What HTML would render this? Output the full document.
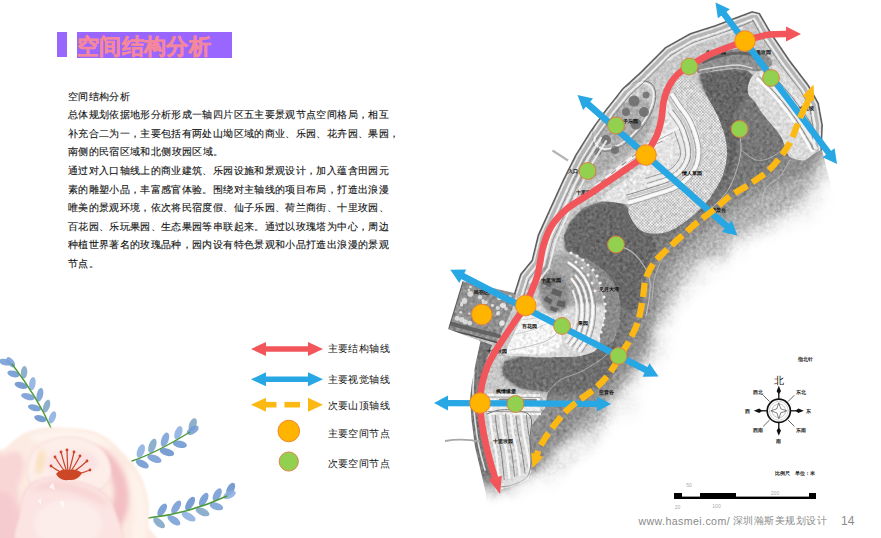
<!DOCTYPE html>
<html lang="zh">
<head>
<meta charset="utf-8">
<title>空间结构分析</title>
<style>
html,body{margin:0;padding:0;background:#fff;}
body{width:881px;height:538px;overflow:hidden;font-family:"Liberation Sans",sans-serif;}
#page{position:relative;width:881px;height:538px;overflow:hidden;background:#fff;}
#art{position:absolute;left:0;top:0;}
.tbar{position:absolute;left:57px;top:32px;width:10px;height:25px;background:#9966ff;}
.title{position:absolute;left:77px;top:32px;-webkit-text-stroke:0.5px #f5879c;padding-top:1.5px;box-sizing:border-box;width:155px;height:26px;background:#9966ff;color:#f5879c;font-weight:bold;font-size:22px;line-height:26px;white-space:nowrap;letter-spacing:0px;}
.body{position:absolute;left:67.8px;top:87.6px;-webkit-text-stroke:0.12px #111;width:340px;font-size:10.35px;line-height:18.6px;color:#111;}
.body p{margin:0;white-space:nowrap;}
.j{display:block;text-align:justify;text-align-last:justify;text-justify:inter-character;white-space:nowrap;overflow:visible;}
.lg{position:absolute;left:327.5px;margin-top:0.3px;font-size:10.3px;line-height:14px;color:#111;white-space:nowrap;}
.foot{position:absolute;left:638px;top:513px;font-size:10.6px;line-height:16px;color:#8a8a8a;white-space:nowrap;letter-spacing:0.41px;}
.pg{position:absolute;left:841px;top:512px;font-size:12px;line-height:18px;color:#8a8a8a;}
</style>
</head>
<body>
<div id="page">
<svg id="art" width="881" height="538" viewBox="0 0 881 538">
<defs><filter id="wc" x="-5%" y="-5%" width="110%" height="110%"><feGaussianBlur stdDeviation="1.1"/></filter><filter id="wc2" x="-10%" y="-10%" width="120%" height="120%"><feGaussianBlur stdDeviation="2.4"/></filter><filter id="wc0" x="-5%" y="-5%" width="110%" height="110%"><feGaussianBlur stdDeviation="0.45"/></filter></defs>
<g id="sprigs" filter="url(#wc0)">
<ellipse cx="40.4" cy="418.6" rx="6.4" ry="3.2" transform="rotate(-164 40.4 418.6)" fill="#6890cc" fill-opacity="0.88"/><ellipse cx="52.4" cy="417.4" rx="6.4" ry="3.2" transform="rotate(-67 52.4 417.4)" fill="#8caee0" fill-opacity="0.88"/><ellipse cx="34.5" cy="407.8" rx="6.7" ry="3.2" transform="rotate(-165 34.5 407.8)" fill="#6c96d2" fill-opacity="0.88"/><ellipse cx="46.6" cy="406.1" rx="6.7" ry="3.2" transform="rotate(-72 46.6 406.1)" fill="#7fa5c6" fill-opacity="0.88"/><ellipse cx="27.9" cy="396.7" rx="7.0" ry="3.2" transform="rotate(-165 27.9 396.7)" fill="#749bd5" fill-opacity="0.88"/><ellipse cx="39.9" cy="394.7" rx="7.0" ry="3.2" transform="rotate(-77 39.9 394.7)" fill="#7a9fd6" fill-opacity="0.88"/><ellipse cx="21.1" cy="385.4" rx="6.7" ry="3.2" transform="rotate(-165 21.1 385.4)" fill="#6890cc" fill-opacity="0.88"/><ellipse cx="32.4" cy="383.6" rx="6.7" ry="3.2" transform="rotate(-81 32.4 383.6)" fill="#8caee0" fill-opacity="0.88"/><ellipse cx="13.5" cy="373.9" rx="6.3" ry="3.2" transform="rotate(-165 13.5 373.9)" fill="#6c96d2" fill-opacity="0.88"/><ellipse cx="24.1" cy="372.3" rx="6.3" ry="3.2" transform="rotate(-86 24.1 372.3)" fill="#7fa5c6" fill-opacity="0.88"/><ellipse cx="5.0" cy="362.1" rx="6.0" ry="3.2" transform="rotate(-165 5.0 362.1)" fill="#749bd5" fill-opacity="0.88"/><ellipse cx="10.7" cy="362.3" rx="6.0" ry="3.2" transform="rotate(-127 10.7 362.3)" fill="#7a9fd6" fill-opacity="0.88"/><path d="M51.0 428.0 Q38.0 398.0 12.0 364.0" fill="none" stroke="#4b9a3a" stroke-width="1.4" stroke-linecap="round"/>
<ellipse cx="140.8" cy="451.1" rx="7.1" ry="3.6" transform="rotate(-69 140.8 451.1)" fill="#8caee0" fill-opacity="0.88"/><ellipse cx="142.3" cy="463.9" rx="7.1" ry="3.6" transform="rotate(28 142.3 463.9)" fill="#6c96d2" fill-opacity="0.88"/><ellipse cx="152.4" cy="445.8" rx="7.5" ry="3.6" transform="rotate(-70 152.4 445.8)" fill="#7fa5c6" fill-opacity="0.88"/><ellipse cx="154.4" cy="458.7" rx="7.5" ry="3.6" transform="rotate(21 154.4 458.7)" fill="#749bd5" fill-opacity="0.88"/><ellipse cx="165.0" cy="439.7" rx="7.5" ry="3.6" transform="rotate(-70 165.0 439.7)" fill="#7a9fd6" fill-opacity="0.88"/><ellipse cx="166.9" cy="452.1" rx="7.5" ry="3.6" transform="rotate(16 166.9 452.1)" fill="#6890cc" fill-opacity="0.88"/><ellipse cx="178.4" cy="432.8" rx="7.1" ry="3.6" transform="rotate(-70 178.4 432.8)" fill="#8caee0" fill-opacity="0.88"/><ellipse cx="179.9" cy="444.3" rx="7.1" ry="3.6" transform="rotate(11 179.9 444.3)" fill="#6c96d2" fill-opacity="0.88"/><ellipse cx="192.8" cy="424.6" rx="6.7" ry="3.6" transform="rotate(-69 192.8 424.6)" fill="#7fa5c6" fill-opacity="0.88"/><ellipse cx="192.7" cy="430.3" rx="6.7" ry="3.6" transform="rotate(-32 192.7 430.3)" fill="#749bd5" fill-opacity="0.88"/><path d="M132.0 461.0 Q156.0 453.0 190.0 432.0" fill="none" stroke="#4b9a3a" stroke-width="1.4" stroke-linecap="round"/>
<ellipse cx="162.2" cy="509.9" rx="7.1" ry="3.6" transform="rotate(-57 162.2 509.9)" fill="#6c96d2" fill-opacity="0.88"/><ellipse cx="159.1" cy="522.9" rx="7.1" ry="3.6" transform="rotate(40 159.1 522.9)" fill="#7fa5c6" fill-opacity="0.88"/><ellipse cx="176.2" cy="507.1" rx="7.5" ry="3.6" transform="rotate(-58 176.2 507.1)" fill="#749bd5" fill-opacity="0.88"/><ellipse cx="173.9" cy="520.3" rx="7.5" ry="3.6" transform="rotate(35 173.9 520.3)" fill="#7a9fd6" fill-opacity="0.88"/><ellipse cx="190.1" cy="503.5" rx="7.7" ry="3.6" transform="rotate(-59 190.1 503.5)" fill="#6890cc" fill-opacity="0.88"/><ellipse cx="188.6" cy="516.7" rx="7.7" ry="3.6" transform="rotate(29 188.6 516.7)" fill="#8caee0" fill-opacity="0.88"/><ellipse cx="203.7" cy="499.5" rx="7.4" ry="3.6" transform="rotate(-60 203.7 499.5)" fill="#6c96d2" fill-opacity="0.88"/><ellipse cx="202.5" cy="511.9" rx="7.4" ry="3.6" transform="rotate(24 202.5 511.9)" fill="#7fa5c6" fill-opacity="0.88"/><ellipse cx="217.2" cy="494.7" rx="7.0" ry="3.6" transform="rotate(-61 217.2 494.7)" fill="#749bd5" fill-opacity="0.88"/><ellipse cx="216.4" cy="506.3" rx="7.0" ry="3.6" transform="rotate(18 216.4 506.3)" fill="#7a9fd6" fill-opacity="0.88"/><ellipse cx="230.7" cy="489.0" rx="6.7" ry="3.6" transform="rotate(-62 230.7 489.0)" fill="#6890cc" fill-opacity="0.88"/><ellipse cx="229.5" cy="494.8" rx="6.7" ry="3.6" transform="rotate(-25 229.5 494.8)" fill="#8caee0" fill-opacity="0.88"/><path d="M148.0 518.0 Q188.0 514.0 227.0 496.0" fill="none" stroke="#4b9a3a" stroke-width="1.4" stroke-linecap="round"/>
</g>
<g id="peony">
<path d="M-8.0 458.0 C-6.0 441.5 0.0 452.2 4.0 449.0 C8.0 445.8 11.9 441.9 16.0 439.0 C20.1 436.1 23.2 433.4 28.5 431.5 C33.8 429.6 41.8 428.1 48.0 427.5 C54.2 426.9 59.8 427.7 66.0 428.0 C72.2 428.3 79.5 428.6 85.0 429.5 C90.5 430.4 94.5 431.4 99.0 433.5 C103.5 435.6 108.0 438.8 112.0 442.0 C116.0 445.2 119.5 449.3 123.0 453.0 C126.5 456.7 130.1 460.2 133.0 464.0 C135.9 467.8 138.3 471.5 140.5 476.0 C142.7 480.5 144.6 485.7 146.0 491.0 C147.4 496.3 148.7 502.3 149.0 508.0 C149.3 513.7 148.5 518.3 148.0 525.0 C147.5 531.7 172.0 544.2 146.0 548.0 C120.0 551.8 17.7 563.0 -8.0 548.0 C-33.7 533.0 -10.0 474.5 -8.0 458.0Z" fill="#fcebe2" filter="url(#wc)"/>
<path d="M30.0 436.0 C33.3 434.0 49.7 430.3 60.0 430.0 C70.3 429.7 83.3 431.3 92.0 434.0 C100.7 436.7 110.7 444.0 112.0 446.0 C113.3 448.0 107.0 447.3 100.0 446.0 C93.0 444.7 80.0 438.7 70.0 438.0 C60.0 437.3 46.7 442.3 40.0 442.0 C33.3 441.7 26.7 438.0 30.0 436.0Z" fill="#fef6f0" fill-opacity="0.9" filter="url(#wc2)"/>
<path d="M128.0 468.0 C129.0 464.0 137.0 475.7 140.0 482.0 C143.0 488.3 145.3 495.3 146.0 506.0 C146.7 516.7 146.3 539.3 144.0 546.0 C141.7 552.7 133.7 552.7 132.0 546.0 C130.3 539.3 134.7 519.0 134.0 506.0 C133.3 493.0 127.0 472.0 128.0 468.0Z" fill="#fef4ec" fill-opacity="0.9" filter="url(#wc2)"/>
<path d="M-8.0 464.0 C-5.7 448.3 1.7 456.0 6.0 454.0 C10.3 452.0 15.0 450.7 18.0 452.0 C21.0 453.3 23.3 458.0 24.0 462.0 C24.7 466.0 23.0 471.3 22.0 476.0 C21.0 480.7 18.0 484.0 18.0 490.0 C18.0 496.0 20.0 502.3 22.0 512.0 C24.0 521.7 35.0 542.0 30.0 548.0 C25.0 554.0 -1.7 562.0 -8.0 548.0 C-14.3 534.0 -10.3 479.7 -8.0 464.0Z" fill="#f8d2d4" fill-opacity="0.85" filter="url(#wc2)"/>
<path d="M-8.0 500.0 C-5.7 490.7 2.0 491.0 6.0 492.0 C10.0 493.0 13.0 499.7 16.0 506.0 C19.0 512.3 22.3 523.0 24.0 530.0 C25.7 537.0 31.3 545.0 26.0 548.0 C20.7 551.0 -2.3 556.0 -8.0 548.0 C-13.7 540.0 -10.3 509.3 -8.0 500.0Z" fill="#f3bcc2" fill-opacity="0.4" filter="url(#wc2)"/>
<path d="M96.0 448.0 C96.3 445.3 105.7 450.3 110.0 454.0 C114.3 457.7 119.0 464.0 122.0 470.0 C125.0 476.0 127.2 483.0 128.0 490.0 C128.8 497.0 128.7 505.7 127.0 512.0 C125.3 518.3 120.5 528.3 118.0 528.0 C115.5 527.7 112.7 516.3 112.0 510.0 C111.3 503.7 114.7 496.7 114.0 490.0 C113.3 483.3 111.0 477.0 108.0 470.0 C105.0 463.0 95.7 450.7 96.0 448.0Z" fill="#f1b7be" fill-opacity="0.85" filter="url(#wc2)"/>
<path d="M27.0 472.0 C26.5 465.7 29.2 457.3 33.0 452.0 C36.8 446.7 43.2 442.5 50.0 440.0 C56.8 437.5 66.5 436.3 74.0 437.0 C81.5 437.7 89.3 440.5 95.0 444.0 C100.7 447.5 105.5 452.3 108.0 458.0 C110.5 463.7 112.2 472.3 110.0 478.0 C107.8 483.7 103.3 489.2 95.0 492.0 C86.7 494.8 69.8 495.3 60.0 495.0 C50.2 494.7 41.5 493.8 36.0 490.0 C30.5 486.2 27.5 478.3 27.0 472.0Z" fill="#fdeeea" stroke="#f4cfd0" stroke-width="1.2" stroke-opacity="0.6" filter="url(#wc)"/>
<ellipse cx="72" cy="463" rx="26" ry="13" fill="#fbdedf" fill-opacity="0.75" filter="url(#wc2)"/>
<ellipse cx="40.5" cy="462" rx="4.5" ry="13" fill="#f8dcae" fill-opacity="0.7" transform="rotate(10 40.5 462)" filter="url(#wc2)"/>
<path d="M22.0 548.0 C6.0 542.0 19.2 522.0 20.0 512.0 C20.8 502.0 22.3 493.8 27.0 488.0 C31.7 482.2 40.5 478.3 48.0 477.0 C55.5 475.7 63.7 478.0 72.0 480.0 C80.3 482.0 91.0 484.3 98.0 489.0 C105.0 493.7 111.0 498.2 114.0 508.0 C117.0 517.8 131.3 541.3 116.0 548.0 C100.7 554.7 38.0 554.0 22.0 548.0Z" fill="#fbe4e2" stroke="#f1bcc0" stroke-opacity="0.5" stroke-width="1.1" filter="url(#wc)"/>
<ellipse cx="68" cy="524" rx="34" ry="24" fill="#fdeeeb" fill-opacity="0.9" filter="url(#wc2)"/>
<path d="M30.0 490.0 C30.3 488.5 43.0 482.0 50.0 481.0 C57.0 480.0 64.3 482.0 72.0 484.0 C79.7 486.0 90.0 489.3 96.0 493.0 C102.0 496.7 108.7 504.8 108.0 506.0 C107.3 507.2 98.3 502.3 92.0 500.0 C85.7 497.7 77.3 493.7 70.0 492.0 C62.7 490.3 54.7 490.3 48.0 490.0 C41.3 489.7 29.7 491.5 30.0 490.0Z" fill="#f6cacb" fill-opacity="0.55" filter="url(#wc2)"/>
<path d="M49 487 l4 -4 2 7z M60 502 l4 -1 -1 8z M38 500 l3 -1 0 6z" fill="#fff" fill-opacity="0.75" filter="url(#wc0)"/>
<g stroke="#c9482c" stroke-width="1.2" fill="none" stroke-linecap="round" filter="url(#wc0)"><path d="M68 475 Q59.5 472.5 51.0 466.0"/><circle cx="51.0" cy="466.0" r="1.4" fill="#c7452a" stroke="none"/><path d="M68 475 Q61.5 468.0 55.0 457.0"/><circle cx="55.0" cy="457.0" r="1.4" fill="#c7452a" stroke="none"/><path d="M68 475 Q64.5 465.5 61.0 452.0"/><circle cx="61.0" cy="452.0" r="1.4" fill="#c7452a" stroke="none"/><path d="M68 475 Q67.5 464.5 67.0 450.0"/><circle cx="67.0" cy="450.0" r="1.4" fill="#c7452a" stroke="none"/><path d="M68 475 Q71.0 465.5 74.0 452.0"/><circle cx="74.0" cy="452.0" r="1.4" fill="#c7452a" stroke="none"/><path d="M68 475 Q74.0 467.5 80.0 456.0"/><circle cx="80.0" cy="456.0" r="1.4" fill="#c7452a" stroke="none"/><path d="M68 475 Q77.5 470.0 87.0 461.0"/><circle cx="87.0" cy="461.0" r="1.4" fill="#c7452a" stroke="none"/><path d="M68 475 Q79.0 474.5 90.0 470.0"/><circle cx="90.0" cy="470.0" r="1.4" fill="#c7452a" stroke="none"/></g>
<path d="M56 474 Q61 468 68 470 Q76 468 82 473 Q78 481 68 480 Q60 481 56 474z" fill="#cc4727" filter="url(#wc0)"/>
</g>
<defs>
<filter id="tex" x="0" y="0" width="100%" height="100%" color-interpolation-filters="sRGB"><feTurbulence type="fractalNoise" baseFrequency="0.3" numOctaves="4" seed="7" result="n"/><feColorMatrix in="n" type="matrix" values="0.5 0.5 0 0 0  0.5 0.5 0 0 0  0.5 0.5 0 0 0  0 0 0 0 1" result="g"/><feComposite in="SourceGraphic" in2="g" operator="arithmetic" k1="0" k2="1" k3="0.4" k4="-0.2" result="c"/><feComposite in="c" in2="SourceGraphic" operator="in"/></filter>
<filter id="soft" x="-5%" y="-5%" width="110%" height="110%"><feGaussianBlur stdDeviation="0.7"/></filter>
<filter id="soft2" x="-5%" y="-5%" width="110%" height="110%"><feGaussianBlur stdDeviation="1.8"/></filter>
<filter id="soft4" x="-10%" y="-10%" width="120%" height="120%"><feGaussianBlur stdDeviation="4"/></filter>
<filter id="fadeblur" x="-10%" y="-10%" width="120%" height="120%"><feGaussianBlur stdDeviation="9" result="b"/><feTurbulence type="fractalNoise" baseFrequency="0.035" numOctaves="3" seed="11" result="t"/><feDisplacementMap in="b" in2="t" scale="22" xChannelSelector="R" yChannelSelector="G"/></filter>
<pattern id="scales" width="3" height="3" patternUnits="userSpaceOnUse"><rect width="3" height="3" fill="#e2e2e2"/><circle cx="1" cy="1" r="0.8" fill="#a9a9a9"/><circle cx="2.5" cy="2.5" r="0.6" fill="#b5b5b5"/></pattern>
<clipPath id="leftclip"><polygon points="486.0,494.0 481.0,472.0 475.0,447.0 471.5,420.0 470.0,399.0 471.6,385.0 475.5,364.0 480.5,341.0 448.0,329.0 462.5,281.0 514.0,293.0 520.0,274.0 531.5,260.0 537.5,235.0 550.0,207.5 562.5,180.0 575.0,155.0 590.0,131.0 605.0,110.0 622.5,88.0 640.0,72.0 665.0,47.0 690.0,33.0 715.0,25.0 740.0,15.5 752.0,11.0 760.0,13.0 771.0,32.0 790.0,60.0 809.0,85.0 819.0,103.0 823.0,125.0 822.0,150.0 829.0,178.0 835.0,200.0 900.0,300.0 900.0,560.0 486.0,560.0"/></clipPath>
<mask id="mapmask" maskUnits="userSpaceOnUse" x="380" y="-10" width="520" height="560"><rect x="380" y="-10" width="520" height="560" fill="#000"/><g clip-path="url(#leftclip)"><path d="M380.0 -40.0 C443.3 -127.8 686.7 -53.3 760.0 -40.0 C833.3 -26.7 807.0 15.0 820.0 40.0 C833.0 65.0 835.7 91.7 838.0 110.0 C840.3 128.3 835.8 140.3 834.0 150.0 C832.2 159.7 830.0 160.3 827.0 168.0 C824.0 175.7 821.8 188.2 816.0 196.0 C810.2 203.8 801.0 209.0 792.0 215.0 C783.0 221.0 770.7 227.7 762.0 232.0 C753.3 236.3 747.7 236.0 740.0 241.0 C732.3 246.0 724.2 255.5 716.0 262.0 C707.8 268.5 697.7 274.2 691.0 280.0 C684.3 285.8 680.0 291.8 676.0 297.0 C672.0 302.2 669.2 306.8 667.0 311.0 C664.8 315.2 664.7 316.2 663.0 322.0 C661.3 327.8 660.7 338.0 657.0 346.0 C653.3 354.0 645.8 362.7 641.0 370.0 C636.2 377.3 633.0 381.8 628.0 390.0 C623.0 398.2 618.0 410.5 611.0 419.0 C604.0 427.5 593.8 434.5 586.0 441.0 C578.2 447.5 571.5 452.8 564.0 458.0 C556.5 463.2 548.0 468.0 541.0 472.0 C534.0 476.0 528.0 479.5 522.0 482.0 C516.0 484.5 511.0 486.2 505.0 487.0 C499.0 487.8 491.8 487.0 486.0 487.0 C480.2 487.0 487.7 487.0 470.0 487.0 C452.3 487.0 395.0 574.8 380.0 487.0 C365.0 399.2 316.7 47.8 380.0 -40.0Z" fill="#fff" filter="url(#fadeblur)"/></g></mask>
</defs>
<g id="map" mask="url(#mapmask)">
<g filter="url(#tex)">
<rect x="420" y="0" width="461" height="538" fill="#8e8e8e"/>
<path d="M700.0 74.0 C708.3 60.7 738.3 65.7 750.0 70.0 C761.7 74.3 763.0 88.3 770.0 100.0 C777.0 111.7 789.3 130.3 792.0 140.0 C794.7 149.7 790.0 152.7 786.0 158.0 C782.0 163.3 774.3 167.3 768.0 172.0 C761.7 176.7 754.7 181.7 748.0 186.0 C741.3 190.3 734.0 194.0 728.0 198.0 C722.0 202.0 717.7 205.8 712.0 210.0 C706.3 214.2 699.7 218.7 694.0 223.0 C688.3 227.3 683.3 231.2 678.0 236.0 C672.7 240.8 666.7 246.7 662.0 252.0 C657.3 257.3 653.0 262.3 650.0 268.0 C647.0 273.7 645.5 279.8 644.0 286.0 C642.5 292.2 642.3 298.7 641.0 305.0 C639.7 311.3 638.2 317.8 636.0 324.0 C633.8 330.2 630.7 336.7 628.0 342.0 C625.3 347.3 623.3 350.7 620.0 356.0 C616.7 361.3 612.7 368.7 608.0 374.0 C603.3 379.3 598.3 384.3 592.0 388.0 C585.7 391.7 578.7 394.3 570.0 396.0 C561.3 397.7 551.7 398.0 540.0 398.0 C528.3 398.0 506.7 404.0 500.0 396.0 C493.3 388.0 490.0 366.0 500.0 350.0 C510.0 334.0 550.0 321.7 560.0 300.0 C570.0 278.3 546.7 236.7 560.0 220.0 C573.3 203.3 616.7 211.7 640.0 200.0 C663.3 188.3 690.0 171.0 700.0 150.0 C710.0 129.0 691.7 87.3 700.0 74.0Z" fill="#777777" filter="url(#soft4)"/>
<path d="M834.0 140.0 C826.0 143.3 827.7 154.0 822.0 160.0 C816.3 166.0 807.7 171.7 800.0 176.0 C792.3 180.3 783.3 182.7 776.0 186.0 C768.7 189.3 762.3 192.3 756.0 196.0 C749.7 199.7 743.7 204.0 738.0 208.0 C732.3 212.0 727.5 216.0 722.0 220.0 C716.5 224.0 710.3 227.7 705.0 232.0 C699.7 236.3 694.8 241.3 690.0 246.0 C685.2 250.7 680.0 255.0 676.0 260.0 C672.0 265.0 668.7 270.3 666.0 276.0 C663.3 281.7 661.7 287.0 660.0 294.0 C658.3 301.0 658.0 310.3 656.0 318.0 C654.0 325.7 650.7 333.7 648.0 340.0 C645.3 346.3 643.7 349.7 640.0 356.0 C636.3 362.3 631.0 371.3 626.0 378.0 C621.0 384.7 616.3 390.0 610.0 396.0 C603.7 402.0 595.0 407.7 588.0 414.0 C581.0 420.3 573.7 427.7 568.0 434.0 C562.3 440.3 557.7 446.0 554.0 452.0 C550.3 458.0 551.7 462.0 546.0 470.0 C540.3 478.0 511.0 495.0 520.0 500.0 C529.0 505.0 570.0 516.7 600.0 500.0 C630.0 483.3 673.3 433.3 700.0 400.0 C726.7 366.7 733.3 326.7 760.0 300.0 C786.7 273.3 841.7 266.7 860.0 240.0 C878.3 213.3 874.3 156.7 870.0 140.0 C865.7 123.3 842.0 136.7 834.0 140.0Z" fill="#ffffff" fill-opacity="0.30" filter="url(#soft4)"/>
<path d="M834.0 150.0 C826.7 153.3 829.7 163.3 826.0 170.0 C822.3 176.7 818.0 184.2 812.0 190.0 C806.0 195.8 798.7 199.7 790.0 205.0 C781.3 210.3 769.0 216.8 760.0 222.0 C751.0 227.2 744.0 230.3 736.0 236.0 C728.0 241.7 719.7 249.7 712.0 256.0 C704.3 262.3 696.3 268.0 690.0 274.0 C683.7 280.0 678.3 285.7 674.0 292.0 C669.7 298.3 666.7 305.0 664.0 312.0 C661.3 319.0 660.7 326.7 658.0 334.0 C655.3 341.3 652.0 348.7 648.0 356.0 C644.0 363.3 639.0 370.7 634.0 378.0 C629.0 385.3 623.7 393.0 618.0 400.0 C612.3 407.0 606.7 413.7 600.0 420.0 C593.3 426.3 585.3 432.0 578.0 438.0 C570.7 444.0 563.0 450.3 556.0 456.0 C549.0 461.7 542.0 464.7 536.0 472.0 C530.0 479.3 509.3 495.3 520.0 500.0 C530.7 504.7 570.0 516.7 600.0 500.0 C630.0 483.3 673.3 433.3 700.0 400.0 C726.7 366.7 733.3 326.7 760.0 300.0 C786.7 273.3 841.7 265.0 860.0 240.0 C878.3 215.0 874.3 165.0 870.0 150.0 C865.7 135.0 841.3 146.7 834.0 150.0Z" fill="#ffffff" fill-opacity="0.38" filter="url(#soft4)"/>
<polygon points="486.0,494.0 481.0,472.0 475.0,447.0 471.5,420.0 470.0,399.0 471.6,385.0 475.5,364.0 480.5,341.0 448.0,329.0 462.5,281.0 514.0,293.0 520.0,274.0 531.5,260.0 537.5,235.0 550.0,207.5 562.5,180.0 575.0,155.0 590.0,131.0 605.0,110.0 622.5,88.0 640.0,72.0 665.0,47.0 690.0,33.0 715.0,25.0 740.0,15.5 752.0,11.0 760.0,13.0 771.0,32.0 790.0,60.0 809.0,85.0 819.0,103.0 823.0,125.0 822.0,150.0 815.0,153.0 804.0,161.0 792.0,157.0 788.0,146.0 784.0,136.0 775.0,125.0 766.0,114.0 759.0,102.5 750.5,94.0 752.0,87.0 755.0,77.0 748.0,71.0 735.0,69.0 717.0,71.0 700.0,74.0 704.0,90.0 713.0,107.0 723.0,130.0 727.0,153.0 723.0,176.0 709.0,200.0 690.0,218.0 668.0,231.0 645.0,231.0 633.0,218.0 628.0,208.0 618.0,200.0 600.0,202.0 583.0,208.0 570.0,222.0 564.0,236.0 566.0,250.0 580.0,256.0 596.0,264.0 610.0,276.0 619.0,295.0 620.0,320.0 614.0,340.0 604.0,348.0 590.0,353.0 575.0,358.0 560.0,357.0 545.0,358.0 520.0,357.0 504.0,362.0 503.0,376.0 520.0,388.0 548.0,392.0 545.0,408.0 532.0,425.0 529.0,452.0 531.0,470.0 528.0,480.0 510.0,487.0" fill="#c8c8c8" filter="url(#soft)"/>
<path d="M600.0 203.0 C605.7 201.7 613.2 200.0 618.0 201.0 C622.8 202.0 626.0 205.5 629.0 209.0 C632.0 212.5 632.8 218.2 636.0 222.0 C639.2 225.8 644.7 228.0 648.0 232.0 C651.3 236.0 655.7 241.0 656.0 246.0 C656.3 251.0 652.3 256.3 650.0 262.0 C647.7 267.7 643.7 273.7 642.0 280.0 C640.3 286.3 642.0 294.7 640.0 300.0 C638.0 305.3 634.0 312.0 630.0 312.0 C626.0 312.0 620.0 304.5 616.0 300.0 C612.0 295.5 610.0 289.8 606.0 285.0 C602.0 280.2 597.0 274.8 592.0 271.0 C587.0 267.2 580.3 265.5 576.0 262.0 C571.7 258.5 567.8 254.3 566.0 250.0 C564.2 245.7 564.2 240.7 565.0 236.0 C565.8 231.3 567.8 226.5 571.0 222.0 C574.2 217.5 579.2 212.2 584.0 209.0 C588.8 205.8 594.3 204.3 600.0 203.0Z" fill="#686868" filter="url(#soft2)"/>
<path d="M504.0 363.0 C506.7 359.8 513.2 357.8 520.0 357.0 C526.8 356.2 538.0 358.7 545.0 358.0 C552.0 357.3 554.5 354.8 562.0 353.0 C569.5 351.2 582.7 349.2 590.0 347.0 C597.3 344.8 601.0 339.5 606.0 340.0 C611.0 340.5 618.3 345.3 620.0 350.0 C621.7 354.7 619.3 362.3 616.0 368.0 C612.7 373.7 606.8 380.0 600.0 384.0 C593.2 388.0 583.7 390.7 575.0 392.0 C566.3 393.3 557.2 392.7 548.0 392.0 C538.8 391.3 527.3 390.7 520.0 388.0 C512.7 385.3 506.7 380.2 504.0 376.0 C501.3 371.8 501.3 366.2 504.0 363.0Z" fill="#6e6e6e" filter="url(#soft2)"/>
<path d="M700.0 75.0 C702.3 72.0 712.0 72.8 718.0 72.0 C724.0 71.2 731.0 70.0 736.0 70.0 C741.0 70.0 745.3 69.3 748.0 72.0 C750.7 74.7 752.7 81.3 752.0 86.0 C751.3 90.7 746.8 95.0 744.0 100.0 C741.2 105.0 736.0 109.3 735.0 116.0 C734.0 122.7 738.2 131.8 738.0 140.0 C737.8 148.2 736.7 157.3 734.0 165.0 C731.3 172.7 726.3 179.7 722.0 186.0 C717.7 192.3 708.0 204.5 708.0 203.0 C708.0 201.5 718.8 185.3 722.0 177.0 C725.2 168.7 726.8 160.8 727.0 153.0 C727.2 145.2 725.3 137.7 723.0 130.0 C720.7 122.3 716.2 113.7 713.0 107.0 C709.8 100.3 706.2 95.3 704.0 90.0 C701.8 84.7 697.7 78.0 700.0 75.0Z" fill="#666666" filter="url(#soft2)"/>
<path d="M677.0 78.0 C679.3 76.0 686.2 78.3 690.0 80.0 C693.8 81.7 696.2 83.5 700.0 88.0 C703.8 92.5 709.2 100.0 713.0 107.0 C716.8 114.0 720.7 122.3 723.0 130.0 C725.3 137.7 727.2 145.2 727.0 153.0 C726.8 160.8 725.2 169.2 722.0 177.0 C718.8 184.8 713.3 193.2 708.0 200.0 C702.7 206.8 696.8 212.7 690.0 218.0 C683.2 223.3 674.7 229.7 667.0 232.0 C659.3 234.3 649.8 234.0 644.0 232.0 C638.2 230.0 634.3 224.2 632.0 220.0 C629.7 215.8 626.5 210.3 630.0 207.0 C633.5 203.7 644.7 202.8 653.0 200.0 C661.3 197.2 672.5 194.7 680.0 190.0 C687.5 185.3 694.2 178.8 698.0 172.0 C701.8 165.2 703.5 157.5 703.0 149.0 C702.5 140.5 698.3 128.7 695.0 121.0 C691.7 113.3 686.2 107.8 683.0 103.0 C679.8 98.2 677.0 96.2 676.0 92.0 C675.0 87.8 674.7 80.0 677.0 78.0Z" fill="url(#scales)" filter="url(#soft)"/>
<path d="M668.0 96.0 C670.5 92.2 674.3 93.3 677.0 95.0 C679.7 96.7 681.0 101.5 684.0 106.0 C687.0 110.5 692.0 114.8 695.0 122.0 C698.0 129.2 701.7 140.8 702.0 149.0 C702.3 157.2 700.7 164.3 697.0 171.0 C693.3 177.7 687.3 184.3 680.0 189.0 C672.7 193.7 661.0 196.5 653.0 199.0 C645.0 201.5 638.8 203.5 632.0 204.0 C625.2 204.5 617.3 202.7 612.0 202.0 C606.7 201.3 600.3 202.0 600.0 200.0 C599.7 198.0 605.0 194.0 610.0 190.0 C615.0 186.0 624.0 181.0 630.0 176.0 C636.0 171.0 641.7 166.0 646.0 160.0 C650.3 154.0 653.3 147.0 656.0 140.0 C658.7 133.0 660.0 125.3 662.0 118.0 C664.0 110.7 665.5 99.8 668.0 96.0Z" fill="#e3e3e3" filter="url(#soft)"/>
<path d="M750.0 80.0 C751.7 76.3 754.5 73.5 758.0 71.0 C761.5 68.5 767.0 65.2 771.0 65.0 C775.0 64.8 778.0 66.8 782.0 70.0 C786.0 73.2 790.7 79.0 795.0 84.0 C799.3 89.0 804.2 94.3 808.0 100.0 C811.8 105.7 815.8 111.7 818.0 118.0 C820.2 124.3 821.5 132.3 821.0 138.0 C820.5 143.7 817.8 148.3 815.0 152.0 C812.2 155.7 808.2 159.2 804.0 160.0 C799.8 160.8 793.2 159.3 790.0 157.0 C786.8 154.7 786.7 149.7 785.0 146.0 C783.3 142.3 782.3 138.7 780.0 135.0 C777.7 131.3 774.0 127.7 771.0 124.0 C768.0 120.3 764.7 116.7 762.0 113.0 C759.3 109.3 757.3 105.3 755.0 102.0 C752.7 98.7 748.8 96.7 748.0 93.0 C747.2 89.3 748.3 83.7 750.0 80.0Z" fill="#dbdbdb" filter="url(#soft)"/>
<path d="M700.0 62.0 C703.7 58.7 712.5 55.3 720.0 53.0 C727.5 50.7 737.5 47.8 745.0 48.0 C752.5 48.2 760.5 51.3 765.0 54.0 C769.5 56.7 772.8 61.2 772.0 64.0 C771.2 66.8 764.0 70.0 760.0 71.0 C756.0 72.0 752.2 70.5 748.0 70.0 C743.8 69.5 740.2 68.0 735.0 68.0 C729.8 68.0 723.2 69.2 717.0 70.0 C710.8 70.8 700.8 74.3 698.0 73.0 C695.2 71.7 696.3 65.3 700.0 62.0Z" fill="#8e8e8e" filter="url(#soft)"/>
<path d="M583.0 150.0 C588.0 141.3 594.2 135.0 600.0 128.0 C605.8 121.0 612.0 113.0 618.0 108.0 C624.0 103.0 630.7 98.7 636.0 98.0 C641.3 97.3 647.3 100.0 650.0 104.0 C652.7 108.0 653.0 116.0 652.0 122.0 C651.0 128.0 647.7 135.0 644.0 140.0 C640.3 145.0 635.3 147.7 630.0 152.0 C624.7 156.3 617.7 161.7 612.0 166.0 C606.3 170.3 601.3 174.7 596.0 178.0 C590.7 181.3 584.3 185.7 580.0 186.0 C575.7 186.3 569.5 186.0 570.0 180.0 C570.5 174.0 578.0 158.7 583.0 150.0Z" fill="#adadad" filter="url(#soft2)"/>
<path d="M545.0 262.0 C547.7 257.7 551.7 255.5 556.0 254.0 C560.3 252.5 566.2 251.7 571.0 253.0 C575.8 254.3 580.8 258.2 585.0 262.0 C589.2 265.8 593.0 270.5 596.0 276.0 C599.0 281.5 601.5 288.5 603.0 295.0 C604.5 301.5 605.3 308.3 605.0 315.0 C604.7 321.7 602.5 329.2 601.0 335.0 C599.5 340.8 599.5 346.5 596.0 350.0 C592.5 353.5 586.0 354.8 580.0 356.0 C574.0 357.2 566.7 356.8 560.0 357.0 C553.3 357.2 546.7 357.2 540.0 357.0 C533.3 356.8 525.7 356.5 520.0 356.0 C514.3 355.5 507.3 357.0 506.0 354.0 C504.7 351.0 509.7 343.3 512.0 338.0 C514.3 332.7 517.3 327.0 520.0 322.0 C522.7 317.0 525.3 312.3 528.0 308.0 C530.7 303.7 534.0 300.7 536.0 296.0 C538.0 291.3 538.5 285.7 540.0 280.0 C541.5 274.3 542.3 266.3 545.0 262.0Z" fill="#dadada" filter="url(#soft)"/>
<path d="M545.0 262.0 C547.7 257.7 551.7 255.5 556.0 254.0 C560.3 252.5 566.2 251.7 571.0 253.0 C575.8 254.3 580.8 258.2 585.0 262.0 C589.2 265.8 593.0 270.5 596.0 276.0 C599.0 281.5 601.7 290.0 603.0 295.0 C604.3 300.0 606.2 304.7 604.0 306.0 C601.8 307.3 594.8 303.2 590.0 303.0 C585.2 302.8 579.7 303.7 575.0 305.0 C570.3 306.3 566.5 309.7 562.0 311.0 C557.5 312.3 551.7 314.8 548.0 313.0 C544.3 311.2 541.3 305.5 540.0 300.0 C538.7 294.5 539.2 286.3 540.0 280.0 C540.8 273.7 542.3 266.3 545.0 262.0Z" fill="#a6a6a6" filter="url(#soft2)"/>
<path d="M585.0 258.0 C587.0 258.5 593.7 262.7 598.0 266.0 C602.3 269.3 607.5 273.0 611.0 278.0 C614.5 283.0 617.5 289.0 619.0 296.0 C620.5 303.0 621.0 312.7 620.0 320.0 C619.0 327.3 615.8 335.5 613.0 340.0 C610.2 344.5 605.2 347.7 603.0 347.0 C600.8 346.3 599.7 341.3 600.0 336.0 C600.3 330.7 604.5 321.8 605.0 315.0 C605.5 308.2 604.5 301.5 603.0 295.0 C601.5 288.5 598.8 281.3 596.0 276.0 C593.2 270.7 587.8 266.0 586.0 263.0 C584.2 260.0 583.0 257.5 585.0 258.0Z" fill="#8a8a8a" filter="url(#soft)"/>
<path d="M541.0 278.0 C542.7 274.7 546.5 272.3 550.0 272.0 C553.5 271.7 559.0 273.0 562.0 276.0 C565.0 279.0 567.3 285.0 568.0 290.0 C568.7 295.0 568.0 302.3 566.0 306.0 C564.0 309.7 559.5 312.0 556.0 312.0 C552.5 312.0 547.7 309.3 545.0 306.0 C542.3 302.7 540.7 296.7 540.0 292.0 C539.3 287.3 539.3 281.3 541.0 278.0Z" fill="#8c8c8c" filter="url(#soft2)"/>
<path d="M507.0 352.0 C506.2 348.3 512.3 337.8 515.0 332.0 C517.7 326.2 519.5 320.3 523.0 317.0 C526.5 313.7 531.5 312.2 536.0 312.0 C540.5 311.8 546.3 313.3 550.0 316.0 C553.7 318.7 556.0 323.7 558.0 328.0 C560.0 332.3 562.7 338.2 562.0 342.0 C561.3 345.8 557.7 349.0 554.0 351.0 C550.3 353.0 545.7 353.5 540.0 354.0 C534.3 354.5 525.5 354.3 520.0 354.0 C514.5 353.7 507.8 355.7 507.0 352.0Z" fill="#f3f3f3" filter="url(#soft)"/>
<polygon points="448.0,329.0 462.5,281.0 516.0,293.0 512.0,310.0 497.0,342.0" fill="#8f8f8f"/>
<path d="M487.0 416.0 C489.0 411.2 494.5 411.7 500.0 411.0 C505.5 410.3 514.8 410.8 520.0 412.0 C525.2 413.2 529.3 413.3 531.0 418.0 C532.7 422.7 530.0 432.7 530.0 440.0 C530.0 447.3 531.3 456.0 531.0 462.0 C530.7 468.0 531.2 472.3 528.0 476.0 C524.8 479.7 517.0 482.3 512.0 484.0 C507.0 485.7 501.3 489.2 498.0 486.0 C494.7 482.8 493.7 472.7 492.0 465.0 C490.3 457.3 488.8 448.2 488.0 440.0 C487.2 431.8 485.0 420.8 487.0 416.0Z" fill="#d4d4d4" filter="url(#soft)"/>
<polygon points="487.0,393.5 540.0,394.0 541.0,415.0 487.0,414.5" fill="#ececec"/>
<polygon points="480.5,341.0 475.5,364.0 471.6,385.0 470.0,399.0 471.5,420.0 475.0,447.0 481.0,472.0 486.0,494.0 496.0,492.0 490.0,470.0 484.0,445.0 481.0,420.0 480.0,399.0 481.0,385.0 485.0,364.0 492.0,345.0" fill="#747474" filter="url(#soft)"/>
</g>
<g id="mapdetail" fill="none" stroke-linecap="round">
<path d="M674.3 93.1 C675.5 94.9 678.2 99.3 681.3 104.1 C684.5 108.9 689.9 114.3 693.2 121.8 C696.4 129.3 700.5 140.9 701.0 149.1 C701.5 157.3 699.9 164.5 696.3 171.0 C692.6 177.6 686.3 183.8 678.9 188.3 C671.6 192.8 660.6 195.3 652.4 198.1 C644.1 200.9 633.2 203.9 629.4 205.1" fill="none" stroke="#8c8c8c" stroke-width="0.8" stroke-opacity="0.95"/>
<path d="M672.1 94.5 C673.3 96.3 676.0 100.8 679.2 105.5 C682.3 110.2 687.6 115.5 690.8 122.8 C694.0 130.1 697.9 141.5 698.4 149.3 C698.9 157.1 697.5 163.6 694.0 169.7 C690.5 175.9 684.6 181.8 677.6 186.1 C670.5 190.4 659.7 192.9 651.5 195.6 C643.4 198.4 632.5 201.4 628.7 202.6" fill="none" stroke="#fafafa" stroke-width="3.2" stroke-opacity="0.95"/>
<path d="M669.9 95.9 C671.1 97.7 673.9 102.3 677.0 106.9 C680.1 111.6 685.3 116.8 688.4 123.9 C691.5 131.0 695.3 142.0 695.8 149.4 C696.4 156.9 695.0 162.7 691.7 168.5 C688.5 174.2 683.0 179.8 676.2 183.9 C669.4 188.0 658.7 190.5 650.7 193.2 C642.6 195.9 631.7 199.0 627.9 200.1" fill="none" stroke="#8c8c8c" stroke-width="0.8" stroke-opacity="0.95"/>
<path d="M667.7 97.3 C668.9 99.1 671.8 103.8 674.8 108.4 C677.8 113.0 682.9 118.0 686.0 124.9 C689.1 131.8 692.6 142.5 693.2 149.6 C693.8 156.6 692.5 161.9 689.5 167.2 C686.4 172.6 681.4 177.8 674.8 181.7 C668.2 185.6 657.8 188.1 649.8 190.7 C641.9 193.4 630.9 196.5 627.1 197.6" fill="none" stroke="#c9c9c9" stroke-width="2.4" stroke-opacity="0.95"/>
<path d="M672.6 109.8 C674.5 112.5 680.6 119.3 683.6 125.9 C686.6 132.6 690.0 143.1 690.6 149.7 C691.2 156.4 690.0 161.0 687.2 165.9 C684.3 170.9 679.8 175.8 673.4 179.5 C667.1 183.2 656.9 185.6 649.0 188.3 C641.2 190.9 630.2 194.0 626.4 195.1" fill="none" stroke="#7d7d7d" stroke-width="0.9" stroke-opacity="0.95"/>
<path d="M670.5 111.2 C672.3 113.8 678.3 120.5 681.2 127.0 C684.2 133.4 687.4 143.6 688.0 149.9 C688.6 156.2 687.6 160.1 684.9 164.7 C682.3 169.2 678.2 173.7 672.1 177.3 C666.0 180.8 652.2 184.4 648.2 185.8" fill="none" stroke="#f4f4f4" stroke-width="2.6" stroke-opacity="0.95"/>
<path d="M668.3 112.6 C670.0 115.2 676.0 121.8 678.9 128.0 C681.7 134.2 684.8 144.1 685.4 150.0 C686.1 155.9 685.1 159.2 682.7 163.4 C680.2 167.6 676.6 171.7 670.7 175.1 C664.8 178.4 651.2 182.0 647.3 183.3" fill="none" stroke="#8a8a8a" stroke-width="0.8" stroke-opacity="0.95"/>
<path d="M666.1 114.1 C667.8 116.6 673.7 123.0 676.5 129.1 C679.3 135.1 682.2 144.7 682.8 150.2 C683.5 155.7 682.6 158.3 680.4 162.1 C678.1 165.9 675.0 169.7 669.3 172.8 C663.7 176.0 650.3 179.5 646.5 180.9" fill="none" stroke="#e9e9e9" stroke-width="2.2" stroke-opacity="0.95"/>
<path d="M674.1 130.1 C675.1 133.5 679.6 145.2 680.2 150.3 C680.9 155.5 680.2 157.5 678.1 160.8 C676.1 164.2 673.4 167.7 668.0 170.6 C662.5 173.6 649.4 177.1 645.7 178.4" fill="none" stroke="#808080" stroke-width="0.8" stroke-opacity="0.95"/>
<path d="M596.0 186.0 C598.0 184.5 603.7 179.8 608.0 177.0 C612.3 174.2 617.3 171.5 622.0 169.0 C626.7 166.5 633.7 163.2 636.0 162.0" fill="none" stroke="#f6f6f6" stroke-width="2.6" stroke-opacity="0.95"/>
<path d="M601.2 181.8 C603.2 180.3 608.9 175.6 613.2 172.8 C617.5 170.0 622.5 167.3 627.2 164.8 C631.9 162.3 638.9 159.0 641.2 157.8" fill="none" stroke="#8f8f8f" stroke-width="1.1" stroke-opacity="0.95"/>
<path d="M606.4 177.6 C608.4 176.1 614.1 171.4 618.4 168.6 C622.7 165.8 627.7 163.1 632.4 160.6 C637.1 158.1 644.1 154.8 646.4 153.6" fill="none" stroke="#f6f6f6" stroke-width="2.6" stroke-opacity="0.95"/>
<path d="M611.6 173.4 C613.6 171.9 619.3 167.2 623.6 164.4 C627.9 161.6 632.9 158.9 637.6 156.4 C642.3 153.9 649.3 150.6 651.6 149.4" fill="none" stroke="#8f8f8f" stroke-width="1.1" stroke-opacity="0.95"/>
<path d="M616.8 169.2 C618.8 167.7 624.5 163.0 628.8 160.2 C633.1 157.4 638.1 154.7 642.8 152.2 C647.5 149.7 654.5 146.4 656.8 145.2" fill="none" stroke="#f6f6f6" stroke-width="2.6" stroke-opacity="0.95"/>
<path d="M622.0 165.0 C624.0 163.5 629.7 158.8 634.0 156.0 C638.3 153.2 643.3 150.5 648.0 148.0 C652.7 145.5 659.7 142.2 662.0 141.0" fill="none" stroke="#8f8f8f" stroke-width="1.1" stroke-opacity="0.95"/>
<path d="M627.2 160.8 C629.2 159.3 634.9 154.6 639.2 151.8 C643.5 149.0 648.5 146.3 653.2 143.8 C657.9 141.3 664.9 138.0 667.2 136.8" fill="none" stroke="#f6f6f6" stroke-width="2.6" stroke-opacity="0.95"/>
<path d="M632.4 156.6 C634.4 155.1 640.1 150.4 644.4 147.6 C648.7 144.8 653.7 142.1 658.4 139.6 C663.1 137.1 670.1 133.8 672.4 132.6" fill="none" stroke="#8f8f8f" stroke-width="1.1" stroke-opacity="0.95"/>
<path d="M637.6 152.4 C639.6 150.9 645.3 146.2 649.6 143.4 C653.9 140.6 658.9 137.9 663.6 135.4 C668.3 132.9 675.3 129.6 677.6 128.4" fill="none" stroke="#f6f6f6" stroke-width="2.6" stroke-opacity="0.95"/>
<ellipse cx="624" cy="116" rx="40" ry="19" transform="rotate(-50 624 116)" stroke="#f0f0f0" stroke-width="1.6"/><ellipse cx="624" cy="116" rx="42.5" ry="21.5" transform="rotate(-50 624 116)" stroke="#7a7a7a" stroke-width="0.9"/>
<circle cx="634.0" cy="101.0" r="5.5" fill="#666" fill-opacity="0.8" stroke="none" filter="url(#soft)"/><circle cx="644.0" cy="112.0" r="5.0" fill="#666" fill-opacity="0.8" stroke="none" filter="url(#soft)"/><circle cx="636.0" cy="124.0" r="5.5" fill="#666" fill-opacity="0.8" stroke="none" filter="url(#soft)"/><circle cx="626.0" cy="112.0" r="4.0" fill="#666" fill-opacity="0.8" stroke="none" filter="url(#soft)"/><circle cx="606.0" cy="140.0" r="5.0" fill="#666" fill-opacity="0.8" stroke="none" filter="url(#soft)"/><circle cx="615.0" cy="150.0" r="4.0" fill="#666" fill-opacity="0.8" stroke="none" filter="url(#soft)"/><circle cx="598.0" cy="152.0" r="3.5" fill="#666" fill-opacity="0.8" stroke="none" filter="url(#soft)"/><circle cx="646.0" cy="95.0" r="3.5" fill="#666" fill-opacity="0.8" stroke="none" filter="url(#soft)"/><circle cx="620.0" cy="131.0" r="3.0" fill="#666" fill-opacity="0.8" stroke="none" filter="url(#soft)"/>
<path d="M479.7 340.8 L474.7 363.8 L470.8 384.9 L469.2 399.0 L470.7 420.1 L474.2 447.1 L480.2 472.2 L485.2 494.2" fill="none" stroke="#5e5e5e" stroke-width="1.6"/>
<path d="M477.8 340.4 L472.8 363.4 L468.8 384.6 L467.2 399.0 L468.7 420.3 L472.2 447.5 L478.3 472.6 L483.3 494.6" fill="none" stroke="#f2f2f2" stroke-width="1.1" stroke-opacity="0.90"/>
<path d="M475.3 339.9 L470.3 362.9 L466.4 384.2 L464.7 399.0 L466.2 420.5 L469.8 448.0 L475.8 473.2 L480.8 495.2" fill="none" stroke="#b2b2b2" stroke-width="2.8" stroke-opacity="0.90"/>
<path d="M472.7 339.3 L467.7 362.4 L463.7 383.8 L462.0 399.0 L463.5 420.8 L467.1 448.4 L473.2 473.8 L478.2 495.8" fill="none" stroke="#f4f4f4" stroke-width="1.6" stroke-opacity="0.90"/>
<path d="M470.5 338.8 L465.5 362.0 L461.5 383.4 L459.8 399.0 L461.4 421.1 L465.0 448.8 L471.1 474.3 L476.1 496.3" fill="none" stroke="#858585" stroke-width="1.0" stroke-opacity="0.90"/>
<path d="M514.8 293.2 L520.7 274.4 L532.2 260.3 L538.3 235.3 L550.7 207.8 L563.2 180.3 L575.7 155.4 L590.7 131.4 L605.6 110.5 L623.1 88.5 L640.6 72.6 L665.5 47.6 L690.3 33.7 L715.3 25.8 L740.3 16.2 L752.1 11.8 L759.4 13.5 L770.3 32.4 L789.3 60.5 L808.3 85.4 L818.2 103.3 L822.2 125.1 L821.2 150.0" fill="none" stroke="#5e5e5e" stroke-width="1.6"/>
<path d="M516.7 293.8 L522.5 275.3 L534.1 261.1 L540.1 235.9 L552.5 208.7 L565.0 181.2 L577.4 156.4 L592.3 132.6 L607.2 111.7 L624.6 89.9 L641.9 74.0 L666.7 49.2 L691.1 35.6 L715.9 27.6 L741.0 18.1 L752.3 13.8 L757.9 14.9 L768.6 33.5 L787.7 61.6 L806.7 86.6 L816.4 103.9 L820.2 125.2 L819.2 149.9" fill="none" stroke="#f2f2f2" stroke-width="1.1" stroke-opacity="0.90"/>
<path d="M519.1 294.6 L524.7 276.5 L536.3 262.2 L542.5 236.8 L554.8 209.7 L567.3 182.3 L579.6 157.6 L594.4 133.9 L609.2 113.2 L626.4 91.6 L643.7 75.8 L668.3 51.2 L692.1 37.9 L716.8 30.0 L741.9 20.5 L752.7 16.3 L756.1 16.6 L766.5 34.9 L785.7 63.1 L804.6 88.0 L814.0 104.8 L817.7 125.3 L816.7 149.8" fill="none" stroke="#b2b2b2" stroke-width="2.8" stroke-opacity="0.90"/>
<path d="M521.6 295.4 L527.1 277.7 L538.8 263.3 L545.0 237.7 L557.3 210.8 L569.7 183.4 L582.0 158.9 L596.7 135.4 L611.4 114.8 L628.4 93.4 L645.6 77.8 L669.9 53.3 L693.2 40.3 L717.6 32.6 L742.8 23.0 L753.0 18.9 L754.1 18.4 L764.3 36.3 L783.5 64.7 L802.4 89.5 L811.4 105.6 L815.0 125.5 L814.0 149.7" fill="none" stroke="#f4f4f4" stroke-width="1.6" stroke-opacity="0.90"/>
<path d="M523.7 296.1 L529.0 278.8 L540.8 264.2 L547.1 238.4 L559.3 211.7 L571.7 184.4 L583.9 160.0 L598.5 136.7 L613.1 116.2 L630.0 94.9 L647.1 79.3 L671.3 55.0 L694.1 42.3 L718.4 34.6 L743.6 25.0 L753.3 21.1 L752.4 19.8 L762.4 37.5 L781.7 65.9 L800.5 90.7 L809.4 106.4 L812.8 125.6 L811.8 149.6" fill="none" stroke="#858585" stroke-width="1.0" stroke-opacity="0.90"/>
<path d="M530.0 282.3 L543.4 265.3 L549.8 239.3 L561.8 212.9 L574.2 185.6 L586.3 161.4 L601.0 137.9" fill="none" stroke="#f3f3f3" stroke-width="2.2" stroke-opacity="0.90"/>
<path d="M532.4 284.2 L546.1 266.6 L552.6 240.3 L564.6 214.1 L576.9 186.9 L589.0 162.8 L603.6 139.5" fill="none" stroke="#8f8f8f" stroke-width="1.0" stroke-opacity="0.90"/>
<path d="M534.7 286.1 L548.8 267.8 L555.4 241.3 L567.3 215.4 L579.7 188.2 L591.6 164.3 L606.1 141.1" fill="none" stroke="#efefef" stroke-width="2.0" stroke-opacity="0.90"/>
<path d="M757.4 78.6 C759.4 80.6 765.4 86.3 769.5 90.6 C773.5 95.0 777.5 99.7 781.6 104.8 C785.6 109.8 790.0 115.5 793.6 120.9 C797.3 126.2 800.7 131.9 803.7 137.0 C806.7 142.0 810.4 148.7 811.7 151.0" fill="none" stroke="#ffffff" stroke-width="2.4" stroke-opacity="0.95"/>
<path d="M759.3 76.7 C761.3 78.8 767.3 84.5 771.4 88.9 C775.4 93.3 779.5 98.0 783.6 103.1 C787.7 108.2 792.1 114.0 795.8 119.4 C799.5 124.8 802.9 130.6 805.9 135.6 C809.0 140.7 812.7 147.4 814.0 149.7" fill="none" stroke="#7c7c7c" stroke-width="1.0" stroke-opacity="0.95"/>
<path d="M761.1 74.9 C763.1 76.9 769.2 82.7 773.3 87.1 C777.4 91.5 781.5 96.4 785.6 101.5 C789.7 106.6 794.2 112.5 797.9 117.9 C801.7 123.4 805.1 129.2 808.2 134.3 C811.2 139.4 814.9 146.1 816.3 148.4" fill="none" stroke="#f2f2f2" stroke-width="2.6" stroke-opacity="0.95"/>
<path d="M775.2 85.4 C777.3 87.8 783.5 94.7 787.7 99.9 C791.8 105.1 796.3 110.9 800.1 116.4 C803.9 122.0 808.7 130.2 810.4 133.0" fill="none" stroke="#858585" stroke-width="1.0" stroke-opacity="0.95"/>
<path d="M777.1 83.6 C779.2 86.0 785.5 93.0 789.7 98.3 C793.9 103.5 798.4 109.4 802.2 115.0 C806.0 120.5 810.9 128.8 812.6 131.6" fill="none" stroke="#f6f6f6" stroke-width="2.4" stroke-opacity="0.95"/>
<path d="M779.0 81.8 C781.1 84.3 787.5 91.4 791.7 96.6 C795.9 101.9 800.5 107.9 804.4 113.5 C808.2 119.1 813.1 127.5 814.9 130.3" fill="none" stroke="#7f7f7f" stroke-width="1.0" stroke-opacity="0.95"/>
<path d="M793.7 95.0 L806.5 112.0" fill="none" stroke="#ededed" stroke-width="2.0" stroke-opacity="0.95"/>
<path d="M703.0 62.0 C705.8 61.0 713.8 57.5 720.0 56.0 C726.2 54.5 733.7 53.0 740.0 53.0 C746.3 53.0 755.0 55.5 758.0 56.0" fill="none" stroke="#5f5f5f" stroke-width="3.2" stroke-opacity="0.90"/>
<path d="M700.0 70.0 C703.0 69.5 711.7 67.8 718.0 67.0 C724.3 66.2 732.3 64.8 738.0 65.0 C743.7 65.2 749.7 67.5 752.0 68.0" fill="none" stroke="#dedede" stroke-width="1.4" stroke-opacity="0.90"/>
<path d="M668.0 60.0 C671.7 57.7 682.2 49.8 690.0 46.0 C697.8 42.2 706.3 40.0 715.0 37.0 C723.7 34.0 737.5 29.5 742.0 28.0" fill="none" stroke="#e9e9e9" stroke-width="2.0" stroke-opacity="0.90"/>
<path d="M739.0 129.0 C739.3 132.5 741.5 142.8 741.0 150.0 C740.5 157.2 738.2 165.3 736.0 172.0 C733.8 178.7 731.3 184.7 728.0 190.0 C724.7 195.3 720.3 199.7 716.0 204.0 C711.7 208.3 704.3 214.0 702.0 216.0" fill="none" stroke="#c6c6c6" stroke-width="0.9" stroke-opacity="0.90"/>
<path d="M741.0 150.0 C743.5 151.7 751.2 158.7 756.0 160.0 C760.8 161.3 765.7 159.7 770.0 158.0 C774.3 156.3 780.0 151.3 782.0 150.0" fill="none" stroke="#c0c0c0" stroke-width="0.8" stroke-opacity="0.90"/>
<path d="M790.0 160.0 C788.3 162.7 784.0 171.3 780.0 176.0 C776.0 180.7 769.0 183.2 766.0 188.0 C763.0 192.8 761.3 200.7 762.0 205.0 C762.7 209.3 768.7 212.5 770.0 214.0" fill="none" stroke="#c8c8c8" stroke-width="0.9" stroke-opacity="0.85"/>
<path d="M616.0 244.0 C618.7 245.3 627.3 248.3 632.0 252.0 C636.7 255.7 641.0 261.0 644.0 266.0 C647.0 271.0 649.2 276.3 650.0 282.0 C650.8 287.7 649.7 294.3 649.0 300.0 C648.3 305.7 646.5 313.3 646.0 316.0" fill="none" stroke="#c4c4c4" stroke-width="1.1" stroke-opacity="0.90"/>
<path d="M690.0 226.0 C687.7 228.3 680.3 235.0 676.0 240.0 C671.7 245.0 667.5 250.0 664.0 256.0 C660.5 262.0 657.0 268.7 655.0 276.0 C653.0 283.3 652.5 296.0 652.0 300.0" fill="none" stroke="#bcbcbc" stroke-width="0.9" stroke-opacity="0.80"/>
<path d="M548.0 392.0 C550.0 390.0 554.7 383.3 560.0 380.0 C565.3 376.7 573.3 375.3 580.0 372.0 C586.7 368.7 594.7 363.7 600.0 360.0 C605.3 356.3 610.0 351.7 612.0 350.0" fill="none" stroke="#bdbdbd" stroke-width="0.9" stroke-opacity="0.80"/>
<path d="M700.0 218.0 C702.7 217.3 710.2 216.3 716.0 214.0 C721.8 211.7 729.0 207.7 735.0 204.0 C741.0 200.3 749.2 194.0 752.0 192.0" fill="none" stroke="#b8b8b8" stroke-width="0.8" stroke-opacity="0.70"/>
<circle cx="571.0" cy="253.0" r="1.6" fill="#f0f0f0" stroke="none"/><circle cx="577.0" cy="256.0" r="1.6" fill="#f0f0f0" stroke="none"/><circle cx="583.0" cy="260.0" r="1.6" fill="#f0f0f0" stroke="none"/><circle cx="588.0" cy="265.0" r="1.6" fill="#f0f0f0" stroke="none"/><circle cx="593.0" cy="270.0" r="1.6" fill="#f0f0f0" stroke="none"/><circle cx="597.0" cy="276.0" r="1.6" fill="#f0f0f0" stroke="none"/><circle cx="600.0" cy="283.0" r="1.6" fill="#f0f0f0" stroke="none"/><circle cx="602.0" cy="290.0" r="1.6" fill="#f0f0f0" stroke="none"/><circle cx="604.0" cy="297.0" r="1.6" fill="#f0f0f0" stroke="none"/><circle cx="605.0" cy="304.0" r="1.6" fill="#f0f0f0" stroke="none"/><circle cx="605.0" cy="311.0" r="1.6" fill="#f0f0f0" stroke="none"/><circle cx="604.0" cy="318.0" r="1.6" fill="#f0f0f0" stroke="none"/><circle cx="603.0" cy="325.0" r="1.6" fill="#f0f0f0" stroke="none"/><circle cx="601.0" cy="332.0" r="1.6" fill="#f0f0f0" stroke="none"/><circle cx="599.0" cy="339.0" r="1.6" fill="#f0f0f0" stroke="none"/><circle cx="576.0" cy="262.0" r="1.6" fill="#f0f0f0" stroke="none"/><circle cx="582.0" cy="268.0" r="1.6" fill="#f0f0f0" stroke="none"/><circle cx="588.0" cy="275.0" r="1.6" fill="#f0f0f0" stroke="none"/><circle cx="592.0" cy="283.0" r="1.6" fill="#f0f0f0" stroke="none"/><circle cx="595.0" cy="291.0" r="1.6" fill="#f0f0f0" stroke="none"/>
<path d="M570.1 260.3 C572.0 261.9 578.4 266.2 581.7 270.0 C585.1 273.8 588.0 278.1 590.3 283.2 C592.5 288.3 594.2 294.3 595.0 300.4 C595.8 306.5 595.8 313.2 595.0 319.6 C594.2 326.0 592.5 333.4 590.2 338.9 C588.0 344.3 582.9 350.1 581.5 352.4" fill="none" stroke="#8d8d8d" stroke-width="0.9" stroke-opacity="0.95"/>
<path d="M568.4 262.4 C570.2 263.9 576.5 268.1 579.7 271.8 C582.9 275.4 585.7 279.5 587.8 284.3 C589.9 289.1 591.6 294.9 592.3 300.7 C593.1 306.6 593.1 313.1 592.3 319.3 C591.6 325.5 589.9 332.6 587.7 337.8 C585.5 343.1 580.6 348.7 579.2 350.9" fill="none" stroke="#fbfbfb" stroke-width="2.4" stroke-opacity="0.95"/>
<path d="M566.6 264.5 C568.5 266.0 574.6 270.0 577.7 273.5 C580.8 277.0 583.3 280.8 585.3 285.4 C587.3 290.0 588.9 295.5 589.7 301.1 C590.4 306.7 590.4 313.0 589.7 319.0 C588.9 324.9 587.4 331.7 585.2 336.8 C583.1 341.9 578.3 347.3 576.9 349.5" fill="none" stroke="#8b8b8b" stroke-width="0.9" stroke-opacity="0.95"/>
<path d="M575.6 275.3 C576.8 277.2 580.9 282.1 582.8 286.4 C584.7 290.8 586.3 296.1 587.0 301.4 C587.7 306.8 587.7 312.9 587.0 318.6 C586.3 324.3 584.8 330.9 582.7 335.8 C580.7 340.7 576.0 346.0 574.7 348.0" fill="none" stroke="#f5f5f5" stroke-width="2.2" stroke-opacity="0.95"/>
<path d="M573.6 277.1 C574.7 278.8 578.6 283.4 580.4 287.5 C582.1 291.7 583.7 296.7 584.3 301.8 C585.0 306.9 585.0 312.8 584.3 318.3 C583.6 323.8 582.2 330.0 580.2 334.7 C578.3 339.5 573.7 344.6 572.4 346.5" fill="none" stroke="#8a8a8a" stroke-width="0.9" stroke-opacity="0.95"/>
<path d="M571.6 278.9 C572.6 280.5 576.2 284.7 577.9 288.6 C579.6 292.5 581.0 297.3 581.6 302.2 C582.3 307.0 582.3 312.7 581.6 318.0 C581.0 323.2 579.7 329.2 577.7 333.7 C575.8 338.2 571.4 343.2 570.1 345.1" fill="none" stroke="#fafafa" stroke-width="2.4" stroke-opacity="0.95"/>
<path d="M575.4 289.7 C576.0 291.8 578.4 297.9 579.0 302.5 C579.6 307.2 579.6 312.6 578.9 317.6 C578.3 322.6 577.1 328.4 575.2 332.7 C573.4 337.0 569.1 341.8 567.8 343.6" fill="none" stroke="#909090" stroke-width="0.9" stroke-opacity="0.95"/>
<path d="M572.9 290.8 C573.5 292.8 575.7 298.4 576.3 302.9 C576.8 307.3 576.9 312.5 576.3 317.3 C575.7 322.1 574.5 327.5 572.7 331.7 C571.0 335.8 566.8 340.4 565.6 342.2" fill="none" stroke="#f2f2f2" stroke-width="2.0" stroke-opacity="0.95"/>
<rect x="544.0" y="279.0" width="9.0" height="5.0" transform="rotate(25 544.0 279.0)" fill="#555" fill-opacity="0.8" stroke="none"/><rect x="553.0" y="288.0" width="10.0" height="6.0" transform="rotate(20 553.0 288.0)" fill="#555" fill-opacity="0.8" stroke="none"/><rect x="546.0" y="296.0" width="8.0" height="5.0" transform="rotate(30 546.0 296.0)" fill="#555" fill-opacity="0.8" stroke="none"/><rect x="558.0" y="300.0" width="8.0" height="6.0" transform="rotate(15 558.0 300.0)" fill="#555" fill-opacity="0.8" stroke="none"/><rect x="551.0" y="306.0" width="7.0" height="4.0" transform="rotate(20 551.0 306.0)" fill="#555" fill-opacity="0.8" stroke="none"/>
<path d="M510.0 350.0 C513.3 349.3 523.7 347.7 530.0 346.0 C536.3 344.3 543.0 342.7 548.0 340.0 C553.0 337.3 558.0 331.7 560.0 330.0" fill="none" stroke="#b3b3b3" stroke-width="0.8"/>
<path d="M516.0 334.0 C518.7 333.3 527.0 331.7 532.0 330.0 C537.0 328.3 543.7 325.0 546.0 324.0" fill="none" stroke="#bcbcbc" stroke-width="0.7"/>
<path d="M522.0 320.0 C524.3 319.7 531.7 318.7 536.0 318.0 C540.3 317.3 546.0 316.3 548.0 316.0" fill="none" stroke="#bcbcbc" stroke-width="0.7"/>
<circle cx="501.7" cy="323.5" r="2.6" fill="#e6e6e6" fill-opacity="0.85" stroke="none"/><circle cx="461.5" cy="304.9" r="1.6" fill="#e6e6e6" fill-opacity="0.85" stroke="none"/><circle cx="499.6" cy="297.8" r="2.5" fill="#e6e6e6" fill-opacity="0.85" stroke="none"/><circle cx="460.7" cy="312.3" r="1.4" fill="#e6e6e6" fill-opacity="0.85" stroke="none"/><circle cx="470.2" cy="293.9" r="2.8" fill="#e6e6e6" fill-opacity="0.85" stroke="none"/><circle cx="503.2" cy="305.4" r="2.7" fill="#e6e6e6" fill-opacity="0.85" stroke="none"/><circle cx="504.2" cy="306.1" r="1.8" fill="#e6e6e6" fill-opacity="0.85" stroke="none"/><circle cx="468.9" cy="290.0" r="1.3" fill="#e6e6e6" fill-opacity="0.85" stroke="none"/><circle cx="469.3" cy="313.6" r="1.2" fill="#e6e6e6" fill-opacity="0.85" stroke="none"/><circle cx="492.5" cy="305.4" r="1.7" fill="#e6e6e6" fill-opacity="0.85" stroke="none"/><circle cx="497.7" cy="313.9" r="1.7" fill="#e6e6e6" fill-opacity="0.85" stroke="none"/><circle cx="497.8" cy="308.0" r="2.1" fill="#e6e6e6" fill-opacity="0.85" stroke="none"/><circle cx="461.7" cy="319.6" r="2.7" fill="#e6e6e6" fill-opacity="0.85" stroke="none"/><circle cx="506.0" cy="308.8" r="1.8" fill="#e6e6e6" fill-opacity="0.85" stroke="none"/><circle cx="457.2" cy="318.2" r="2.5" fill="#e6e6e6" fill-opacity="0.85" stroke="none"/><circle cx="509.9" cy="296.7" r="1.7" fill="#e6e6e6" fill-opacity="0.85" stroke="none"/><circle cx="486.0" cy="302.5" r="1.7" fill="#e6e6e6" fill-opacity="0.85" stroke="none"/><circle cx="470.5" cy="286.9" r="1.4" fill="#e6e6e6" fill-opacity="0.85" stroke="none"/><circle cx="480.0" cy="297.3" r="2.2" fill="#e6e6e6" fill-opacity="0.85" stroke="none"/><circle cx="498.4" cy="312.8" r="1.9" fill="#e6e6e6" fill-opacity="0.85" stroke="none"/><circle cx="503.8" cy="297.3" r="2.4" fill="#e6e6e6" fill-opacity="0.85" stroke="none"/><circle cx="502.3" cy="322.7" r="2.5" fill="#e6e6e6" fill-opacity="0.85" stroke="none"/><circle cx="461.7" cy="303.1" r="1.4" fill="#e6e6e6" fill-opacity="0.85" stroke="none"/><circle cx="501.7" cy="305.3" r="1.9" fill="#e6e6e6" fill-opacity="0.85" stroke="none"/><circle cx="483.0" cy="300.7" r="1.8" fill="#e6e6e6" fill-opacity="0.85" stroke="none"/><circle cx="464.6" cy="300.9" r="2.8" fill="#e6e6e6" fill-opacity="0.85" stroke="none"/><circle cx="483.3" cy="303.2" r="1.3" fill="#e6e6e6" fill-opacity="0.85" stroke="none"/><circle cx="465.2" cy="321.8" r="2.6" fill="#e6e6e6" fill-opacity="0.85" stroke="none"/><circle cx="469.7" cy="323.1" r="2.4" fill="#e6e6e6" fill-opacity="0.85" stroke="none"/>\n<path d="M450.5 323.5 L471.0 329.0 L499.0 336.0" fill="none" stroke="#5a5a5a" stroke-width="4.2" stroke-opacity="0.85"/>
<path d="M448.5 330.0 L470.0 335.0 L497.0 342.5" fill="none" stroke="#4f4f4f" stroke-width="1.6"/>
<path d="M449.0 328.0 L462.8 282.0" fill="none" stroke="#5a5a5a" stroke-width="1.0"/>
<path d="M490.0 414.0 C490.3 417.0 491.0 425.7 492.0 432.0 C493.0 438.3 494.8 443.8 496.0 452.0 C497.2 460.2 498.5 476.3 499.0 481.2" fill="none" stroke="#f7f7f7" stroke-width="2.4" stroke-opacity="0.95"/>
<path d="M495.2 415.0 C495.5 417.8 496.2 425.8 497.2 432.0 C498.2 438.2 500.0 444.1 501.2 452.0 C502.4 459.9 503.7 475.0 504.2 479.6" fill="none" stroke="#7e7e7e" stroke-width="1.0" stroke-opacity="0.95"/>
<path d="M500.4 416.0 C500.7 418.7 501.4 426.0 502.4 432.0 C503.4 438.0 505.2 444.3 506.4 452.0 C507.6 459.7 508.9 473.7 509.4 478.0" fill="none" stroke="#f7f7f7" stroke-width="2.4" stroke-opacity="0.95"/>
<path d="M505.6 414.0 C505.9 417.0 506.6 425.7 507.6 432.0 C508.6 438.3 510.4 444.6 511.6 452.0 C512.8 459.4 514.1 472.3 514.6 476.4" fill="none" stroke="#7e7e7e" stroke-width="1.0" stroke-opacity="0.95"/>
<path d="M510.8 415.0 C511.1 417.8 511.8 425.8 512.8 432.0 C513.8 438.2 515.6 444.9 516.8 452.0 C518.0 459.1 519.3 471.0 519.8 474.8" fill="none" stroke="#f7f7f7" stroke-width="2.4" stroke-opacity="0.95"/>
<path d="M516.0 416.0 C516.3 418.7 517.0 426.0 518.0 432.0 C519.0 438.0 520.8 445.1 522.0 452.0 C523.2 458.9 524.5 469.7 525.0 473.2" fill="none" stroke="#7e7e7e" stroke-width="1.0" stroke-opacity="0.95"/>
<path d="M521.2 414.0 C521.5 417.0 522.2 425.7 523.2 432.0 C524.2 438.3 526.0 445.4 527.2 452.0 C528.4 458.6 529.7 468.3 530.2 471.6" fill="none" stroke="#f7f7f7" stroke-width="2.4" stroke-opacity="0.95"/>
<path d="M526.4 415.0 C526.7 417.8 527.4 425.8 528.4 432.0 C529.4 438.2 531.2 445.7 532.4 452.0 C533.6 458.3 534.9 467.0 535.4 470.0" fill="none" stroke="#7e7e7e" stroke-width="1.0" stroke-opacity="0.95"/>
<path d="M487.0 414.0 C489.2 413.3 494.5 410.5 500.0 410.0 C505.5 409.5 514.8 409.7 520.0 411.0 C525.2 412.3 529.3 413.2 531.0 418.0 C532.7 422.8 530.0 432.7 530.0 440.0 C530.0 447.3 531.5 455.8 531.0 462.0 C530.5 468.2 530.2 473.2 527.0 477.0 C523.8 480.8 516.8 483.3 512.0 485.0 C507.2 486.7 500.3 486.7 498.0 487.0" fill="none" stroke="#6f6f6f" stroke-width="1.0"/>
<path d="M488.0 397.0 L540.0 397.5" fill="none" stroke="#9a9a9a" stroke-width="0.9"/>
<path d="M488.0 411.5 L540.0 412.0" fill="none" stroke="#8a8a8a" stroke-width="0.9"/>
<path d="M500.0 399.5 L536.0 400.0" fill="none" stroke="#6f6f6f" stroke-width="2.0" stroke-opacity="0.80"/>
<path d="M474.0 372.0 C473.8 375.8 472.8 387.0 473.0 395.0 C473.2 403.0 474.0 411.3 475.0 420.0 C476.0 428.7 477.3 438.7 479.0 447.0 C480.7 455.3 484.0 466.2 485.0 470.0" fill="none" stroke="#efefef" stroke-width="1.6" stroke-opacity="0.90"/>
<path d="M478.0 360.0 C477.8 365.8 476.8 385.0 477.0 395.0 C477.2 405.0 478.0 411.3 479.0 420.0 C480.0 428.7 481.3 438.7 483.0 447.0 C484.7 455.3 488.0 466.2 489.0 470.0" fill="none" stroke="#8a8a8a" stroke-width="1.0" stroke-opacity="0.90"/>
</g>
</g>
<g id="maplabels" font-family="Liberation Sans, sans-serif" font-size="5.4" font-weight="bold" fill="#111" text-anchor="middle"><text x="716.0" y="54.0">生态果园</text><text x="763.0" y="53.5">里玫园</text><text x="806.0" y="110.0">十里坡</text><text x="628.0" y="123.0">仙子乐园</text><text x="573.0" y="173.0">入口</text><text x="586.0" y="194.0">十里玫园</text><text x="692.0" y="175.0">情人草园</text><text x="551.0" y="281.5">十里玫园</text><text x="608.5" y="291.0">见月大湾</text><text x="481.0" y="294.0">民宿区</text><text x="529.0" y="328.0">百花园</text><text x="583.0" y="325.0">果园</text><text x="497.0" y="353.0">十里玫园</text><text x="506.0" y="393.0">枫情缘堡</text><text x="503.0" y="443.0">十里玫园</text><text x="606.0" y="393.5">空音谷</text><text x="718.0" y="212.0">观景台</text></g>
<path d="M552.5 150.5 L568 160.5" stroke="#b5b5b5" stroke-width="2.2" fill="none"/>
<path d="M445 441 Q462 438 480 441.5" stroke="#a8a8a8" stroke-width="1.8" fill="none"/>
<g id="axes" fill="none" stroke-linejoin="round">
<line x1="723.1" y1="12.6" x2="829.4" y2="153.9" stroke="#27a7e4" stroke-width="6.5"/><polygon points="715.5,2.5 729.9,9.2 717.9,18.2" fill="#27a7e4"/><polygon points="837.0,164.0 822.6,157.3 834.6,148.3" fill="#27a7e4"/>
<line x1="587.0" y1="103.3" x2="727.9" y2="227.2" stroke="#27a7e4" stroke-width="6.5"/><polygon points="577.5,95.0 593.0,98.6 583.1,109.9" fill="#27a7e4"/><polygon points="737.4,235.5 721.9,231.9 731.8,220.6" fill="#27a7e4"/>
<line x1="461.5" y1="275.5" x2="647.3" y2="370.7" stroke="#27a7e4" stroke-width="6.5"/><polygon points="450.3,269.8 466.2,269.5 459.3,282.9" fill="#27a7e4"/><polygon points="658.5,376.4 642.6,376.7 649.5,363.3" fill="#27a7e4"/>
<line x1="446.6" y1="403.1" x2="598.4" y2="403.9" stroke="#27a7e4" stroke-width="6.2"/><polygon points="434.0,403.0 448.0,395.6 448.0,410.6" fill="#27a7e4"/><polygon points="611.0,404.0 597.0,411.4 597.0,396.4" fill="#27a7e4"/>
<path d="M809.0 99.0 C807.5 102.2 802.2 113.0 800.0 118.0 C797.8 123.0 797.4 124.9 795.7 129.0 C794.0 133.1 792.5 138.1 790.0 142.6 C787.5 147.1 784.5 151.4 781.0 156.0 C777.5 160.6 774.2 165.3 769.0 170.0 C763.8 174.7 756.5 179.7 750.0 184.0 C743.5 188.3 735.7 192.0 730.0 196.0 C724.3 200.0 721.2 203.8 716.0 208.0 C710.8 212.2 703.8 217.2 698.5 221.5 C693.2 225.8 689.2 229.3 684.0 234.0 C678.8 238.7 672.1 244.6 667.0 249.5 C661.9 254.4 657.1 258.4 653.5 263.5 C649.9 268.6 647.2 274.3 645.5 280.0 C643.8 285.7 644.2 290.6 643.0 297.5 C641.8 304.4 640.2 314.4 638.0 321.5 C635.8 328.6 632.0 335.3 629.7 340.0 C627.4 344.7 627.3 344.1 624.0 349.5 C620.7 354.9 614.8 366.0 610.0 372.5 C605.2 379.0 601.7 382.7 595.0 388.5 C588.3 394.3 577.1 401.0 570.0 407.5 C562.9 414.0 557.3 421.2 552.5 427.5 C547.7 433.8 543.8 439.9 541.0 445.0 C538.2 450.1 536.8 455.8 536.0 458.0" stroke="#fdb913" stroke-width="6.3" stroke-dasharray="14.5 6" stroke-dashoffset="-6.5"/>
<path d="M809.6 97.5 L805.6 106.6" stroke="#fdb913" stroke-width="6.3"/>
<polygon points="813.6,84.6 814.2,100.9 802.1,96.2" fill="#fdb913"/><polygon points="532.5,468.0 531.1,452.6 543.3,457.0" fill="#fdb913"/>
<path d="M787.0 34.0 C784.2 34.1 775.2 33.9 770.0 34.5 C764.8 35.1 760.3 36.3 756.0 37.5 C751.7 38.7 749.2 39.7 744.0 41.5 C738.8 43.3 731.1 46.0 725.0 48.3 C718.9 50.6 713.5 52.5 707.5 55.5 C701.5 58.5 694.3 63.0 689.3 66.2 C684.3 69.4 681.0 71.0 677.5 74.5 C674.0 78.0 670.8 82.4 668.5 87.0 C666.2 91.6 664.7 96.7 663.5 102.0 C662.3 107.3 662.6 113.5 661.5 119.0 C660.4 124.5 658.9 130.2 657.0 135.0 C655.1 139.8 651.8 144.7 650.0 148.0 C648.2 151.3 649.8 151.6 646.0 155.0 C642.2 158.4 633.5 164.0 627.0 168.5 C620.5 173.0 613.2 178.0 607.0 182.2 C600.8 186.4 596.8 189.2 590.0 193.7 C583.2 198.2 572.9 203.8 566.5 209.2 C560.1 214.6 555.4 219.9 551.5 226.0 C547.6 232.1 545.2 239.8 543.3 246.0 C541.4 252.2 541.0 257.8 540.0 263.0 C539.0 268.2 538.5 272.1 537.0 277.0 C535.5 281.9 532.9 287.8 531.0 292.5 C529.1 297.2 528.6 300.1 525.5 305.5 C522.4 310.9 517.1 318.1 512.5 325.0 C507.9 331.9 502.1 340.3 498.0 347.0 C493.9 353.7 490.7 358.8 488.0 365.0 C485.3 371.2 483.3 377.7 482.0 384.0 C480.7 390.3 479.8 395.3 480.0 403.0 C480.2 410.7 481.5 421.0 483.0 430.0 C484.5 439.0 487.0 449.0 489.0 457.0 C491.0 465.0 494.0 474.5 495.0 478.0" stroke="#f2555a" stroke-width="6.6" stroke-linecap="butt"/>
<polygon points="801.0,34.0 786.0,41.5 786.0,26.5" fill="#f2555a"/><polygon points="500.0,494.0 488.8,479.5 501.8,475.8" fill="#f2555a"/>
</g>
<g id="nodes">
<circle cx="689.3" cy="66.5" r="8.4" fill="#92d050" stroke="#e07a3a" stroke-width="0.9"/><circle cx="771.0" cy="78.0" r="8.4" fill="#92d050" stroke="#e07a3a" stroke-width="0.9"/><circle cx="616.0" cy="125.5" r="8.4" fill="#92d050" stroke="#e07a3a" stroke-width="0.9"/><circle cx="739.5" cy="129.0" r="8.4" fill="#92d050" stroke="#e07a3a" stroke-width="0.9"/><circle cx="587.5" cy="171.0" r="8.4" fill="#92d050" stroke="#e07a3a" stroke-width="0.9"/><circle cx="616.0" cy="244.5" r="8.4" fill="#92d050" stroke="#e07a3a" stroke-width="0.9"/><circle cx="562.0" cy="326.0" r="8.4" fill="#92d050" stroke="#e07a3a" stroke-width="0.9"/><circle cx="618.5" cy="356.0" r="8.4" fill="#92d050" stroke="#e07a3a" stroke-width="0.9"/><circle cx="515.5" cy="404.0" r="8.4" fill="#92d050" stroke="#e07a3a" stroke-width="0.9"/>
<circle cx="745.0" cy="41.0" r="10.3" fill="#ffb400" stroke="#f08030" stroke-width="0.9"/><circle cx="646.0" cy="155.0" r="10.3" fill="#ffb400" stroke="#f08030" stroke-width="0.9"/><circle cx="525.8" cy="305.5" r="10.3" fill="#ffb400" stroke="#f08030" stroke-width="0.9"/><circle cx="481.8" cy="314.5" r="10.3" fill="#ffb400" stroke="#f08030" stroke-width="0.9"/><circle cx="480.0" cy="403.0" r="10.3" fill="#ffb400" stroke="#f08030" stroke-width="0.9"/>
</g>
<g id="legend">
<line x1="264.5" y1="349.0" x2="309.5" y2="349.0" stroke="#f2555a" stroke-width="5.6"/><polygon points="251.0,349.0 266.0,342.0 266.0,356.0" fill="#f2555a"/><polygon points="323.0,349.0 308.0,356.0 308.0,342.0" fill="#f2555a"/>
<line x1="264.5" y1="379.3" x2="309.5" y2="379.3" stroke="#27a7e4" stroke-width="5.6"/><polygon points="251.0,379.3 266.0,372.3 266.0,386.3" fill="#27a7e4"/><polygon points="323.0,379.3 308.0,386.3 308.0,372.3" fill="#27a7e4"/>
<polygon points="251.0,404.7 266.0,397.7 266.0,411.7" fill="#fdb913"/><polygon points="323.0,404.7 308.0,411.7 308.0,397.7" fill="#fdb913"/><rect x="265" y="401.9" width="11.5" height="5.6" fill="#fdb913"/><rect x="284.5" y="401.9" width="15.5" height="5.6" fill="#fdb913"/>
<circle cx="288.8" cy="431" r="10.8" fill="#ffb400" stroke="#f08030" stroke-width="0.9"/><circle cx="288.8" cy="461.5" r="9.6" fill="#92d050" stroke="#e07a3a" stroke-width="0.9"/>
</g>
<g id="compass" font-family="Liberation Serif, serif" fill="#111">
<circle cx="778.8" cy="410.8" r="11.6" fill="#fff" stroke="#111" stroke-width="1.7"/><circle cx="778.8" cy="410.8" r="9.3" fill="none" stroke="#555" stroke-width="0.45" stroke-dasharray="0.8 0.6"/><circle cx="778.8" cy="410.8" r="6.8" fill="none" stroke="#666" stroke-width="0.4"/><path d="M778.8 402.8 l2.0 6.0 6.0 2.0 -6.0 2.0 -2.0 6.0 -2.0 -6.0 -6.0 -2.0 6.0 -2.0z" fill="#fff" stroke="#333" stroke-width="0.6"/>
<line x1="778.8" y1="398.8" x2="778.8" y2="392.8" stroke="#111" stroke-width="1.3"/><polygon points="778.8,385.8 781.0,391.2 778.8,394.2 776.6,391.2" fill="#111"/><line x1="778.8" y1="422.8" x2="778.8" y2="428.8" stroke="#111" stroke-width="1.3"/><polygon points="778.8,435.8 776.6,430.4 778.8,427.4 781.0,430.4" fill="#111"/><line x1="790.8" y1="410.8" x2="796.8" y2="410.8" stroke="#111" stroke-width="1.3"/><polygon points="803.8,410.8 798.4,413.0 795.4,410.8 798.4,408.6" fill="#111"/><line x1="766.8" y1="410.8" x2="760.8" y2="410.8" stroke="#111" stroke-width="1.3"/><polygon points="753.8,410.8 759.2,408.6 762.2,410.8 759.2,413.0" fill="#111"/>
<line x1="788.0" y1="401.6" x2="794.4" y2="395.2" stroke="#222" stroke-width="0.7"/><line x1="788.0" y1="420.0" x2="794.4" y2="426.4" stroke="#222" stroke-width="0.7"/><line x1="769.6" y1="420.0" x2="763.2" y2="426.4" stroke="#222" stroke-width="0.7"/><line x1="769.6" y1="401.6" x2="763.2" y2="395.2" stroke="#222" stroke-width="0.7"/>
<text x="778.6" y="383.6" font-size="10" text-anchor="middle">北</text><text x="757.5" y="394.0" font-size="4.8" font-weight="bold" text-anchor="middle" fill="#222">西北</text><text x="801.0" y="394.0" font-size="4.8" font-weight="bold" text-anchor="middle" fill="#222">东北</text><text x="747.0" y="413.0" font-size="4.8" font-weight="bold" text-anchor="middle" fill="#222">西</text><text x="808.0" y="413.0" font-size="4.8" font-weight="bold" text-anchor="middle" fill="#222">东</text><text x="757.5" y="432.0" font-size="4.8" font-weight="bold" text-anchor="middle" fill="#222">西南</text><text x="801.0" y="432.0" font-size="4.8" font-weight="bold" text-anchor="middle" fill="#222">东南</text><text x="778.6" y="443.0" font-size="4.8" font-weight="bold" text-anchor="middle" fill="#222">南</text>
<text x="805" y="360.6" font-size="4.6" font-weight="bold" text-anchor="middle" font-family="Liberation Sans, sans-serif">指北针</text>
</g>
<g id="scalebar" font-family="Liberation Sans, sans-serif">
<rect x="674" y="496.6" width="142" height="2.4" fill="#000"/><rect x="674" y="493" width="8" height="6" fill="#000"/><rect x="700" y="493" width="36" height="6" fill="#000"/><rect x="809" y="493" width="7" height="6" fill="#000"/>
<text x="689.0" y="487.0" font-size="5" text-anchor="middle" fill="#aaa">50</text><text x="677.5" y="509.0" font-size="5" text-anchor="middle" fill="#aaa">20</text><text x="716.5" y="508.0" font-size="5" text-anchor="middle" fill="#aaa">100</text><text x="775.0" y="495.0" font-size="5" text-anchor="middle" fill="#aaa">200</text>
<text x="795" y="475" font-size="4.6" font-weight="bold" text-anchor="middle" fill="#111">比例尺　单位：米</text>
</g>
</svg>
<div class="tbar"></div>
<div class="title"><span class="j" style="width:133.5px">空间结构分析</span></div>
<div class="body">
<p class="j" style="width:62.1px">空间结构分析</p>
<p class="j" style="width:320.8px">总体规划依据地形分析形成一轴四片区五主要景观节点空间格局，相互</p>
<p class="j" style="width:331.2px">补充合二为一，主要包括有两处山坳区域的商业、乐园、花卉园、果园，</p>
<p class="j" style="width:155.2px">南侧的民宿区域和北侧玫园区域。</p>
<p class="j" style="width:320.8px">通过对入口轴线上的商业建筑、乐园设施和景观设计，加入蕴含田园元</p>
<p class="j" style="width:320.8px">素的雕塑小品，丰富感官体验。围绕对主轴线的项目布局，打造出浪漫</p>
<p class="j" style="width:320.8px">唯美的景观环境，依次将民宿度假、仙子乐园、荷兰商街、十里玫园、</p>
<p class="j" style="width:320.8px">百花园、乐玩果园、生态果园等串联起来。通过以玫瑰塔为中心，周边</p>
<p class="j" style="width:320.8px">种植世界著名的玫瑰品种，园内设有特色景观和小品打造出浪漫的景观</p>
<p class="j" style="width:31.0px">节点。</p>
</div>
<div class="lg j" style="top:342px;width:62px">主要结构轴线</div>
<div class="lg j" style="top:372.5px;width:62px">主要视觉轴线</div>
<div class="lg j" style="top:398.5px;width:62px">次要山顶轴线</div>
<div class="lg j" style="top:427.2px;width:62px">主要空间节点</div>
<div class="lg j" style="top:456.6px;width:62px">次要空间节点</div>
<div class="foot" style="left:638.5px">www.hasmei.com/</div>
<div class="foot j" style="left:732.5px;width:94.5px;letter-spacing:0;font-size:10.3px">深圳瀚斯美规划设计</div>
<div class="pg">14</div>
</div>
</body>
</html>
